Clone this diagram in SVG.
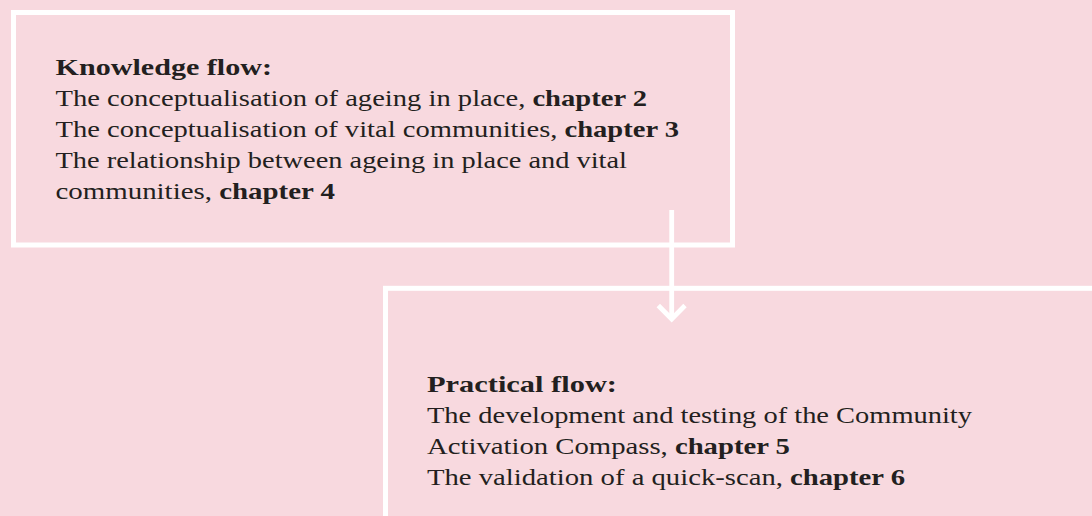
<svg xmlns="http://www.w3.org/2000/svg" width="1092" height="516" viewBox="0 0 1092 516">
<style>
.box{fill:none;stroke:#ffffff;stroke-width:5}
.t{font-family:"Liberation Serif",serif;font-size:24px;fill:#231f20}
.b{font-weight:bold}
.conn{fill:none;stroke:#ffffff;stroke-width:4.8}
</style>
<rect x="0" y="0" width="1092" height="516" fill="#f8d9df"/>
<g id="knowledge">
<rect class="box" x="13.5" y="12.5" width="719" height="232.5"/>
<text class="t" x="55.5" y="75" textLength="216.5" lengthAdjust="spacingAndGlyphs"><tspan class="b">Knowledge flow:</tspan></text>
<text class="t" x="55.5" y="106" textLength="591.5" lengthAdjust="spacingAndGlyphs">The conceptualisation of ageing in place, <tspan class="b">chapter 2</tspan></text>
<text class="t" x="55.5" y="137" textLength="623.5" lengthAdjust="spacingAndGlyphs">The conceptualisation of vital communities, <tspan class="b">chapter 3</tspan></text>
<text class="t" x="55.5" y="168" textLength="571.5" lengthAdjust="spacingAndGlyphs">The relationship between ageing in place and vital</text>
<text class="t" x="55.5" y="199" textLength="279.5" lengthAdjust="spacingAndGlyphs">communities, <tspan class="b">chapter 4</tspan></text>
</g>
<g id="practical">
<rect class="box" x="385.5" y="288.3" width="720" height="240"/>
<text class="t" x="427" y="392" textLength="190" lengthAdjust="spacingAndGlyphs"><tspan class="b">Practical flow:</tspan></text>
<text class="t" x="427" y="423" textLength="545" lengthAdjust="spacingAndGlyphs">The development and testing of the Community</text>
<text class="t" x="427" y="454" textLength="363" lengthAdjust="spacingAndGlyphs">Activation Compass, <tspan class="b">chapter 5</tspan></text>
<text class="t" x="427" y="485" textLength="478" lengthAdjust="spacingAndGlyphs">The validation of a quick-scan, <tspan class="b">chapter 6</tspan></text>
</g>
<g id="connectors">
<line class="conn" x1="671.7" y1="210" x2="671.7" y2="319"/>
<polyline class="conn" points="658.3,305.5 671.7,319 685,305.5"/>
</g>
</svg>
